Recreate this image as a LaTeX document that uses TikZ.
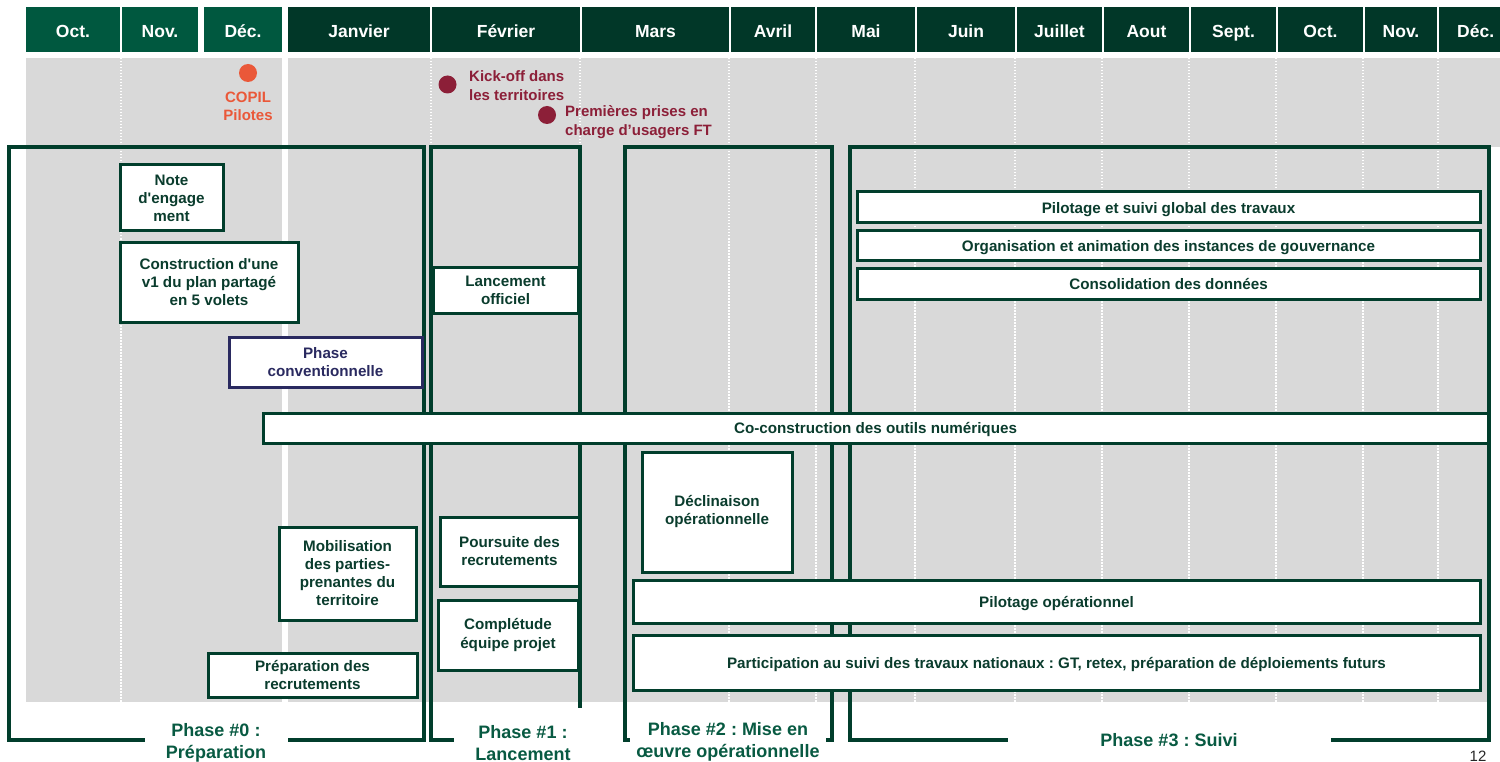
\documentclass[tikz,border=0pt]{standalone}
\usepackage{fontspec}
\setmainfont{Liberation Sans}[Ligatures=TeXOff]
\frenchspacing
\definecolor{hdrlight}{RGB}{0,88,63}
\definecolor{hdrdark}{RGB}{1,55,40}
\definecolor{bggray}{RGB}{217,217,217}
\definecolor{linegreen}{RGB}{1,62,44}
\definecolor{txtgreen}{RGB}{10,60,45}
\definecolor{phgreen}{RGB}{8,90,66}
\definecolor{navy}{RGB}{42,42,96}
\definecolor{copilor}{RGB}{234,88,57}
\definecolor{kickred}{RGB}{140,31,56}
\newcommand\mybox[7]{\node[#1, minimum width={((#5)-(#3))*1pt}, minimum height={((#6)-(#4))*1pt}] (#2) at ({((#3)+(#5))/2},{((#4)+(#6))/2}) {#7};}
\tikzset{
  hdr/.style={fill=#1, draw=none, inner sep=0pt, text=white, text height=15.6pt, text depth=0pt, font=\fontsize{17.5}{20}\selectfont\bfseries},
  box/.style={draw=linegreen, line width=3pt, fill=white, inner sep=0pt, align=center, text=txtgreen, font=\fontsize{15.2}{18}\selectfont\bfseries},
  onebox/.style={box, text depth=0pt},
  navybox/.style={box, draw=navy, text=navy},
  frame/.style={draw=linegreen, line width=3.5pt, inner sep=0pt},
  cover/.style={fill=white, draw=none, inner sep=0pt},
  phlbl/.style={inner sep=0pt, align=center, text=phgreen, font=\fontsize{18}{22}\selectfont\bfseries},
  dot/.style={circle, fill=#1, draw=none, minimum size=18pt, inner sep=0pt},
  mstext/.style={inner sep=0pt, text=#1, font=\fontsize{15}{19}\selectfont\bfseries},
  monthsep/.style={draw=white, line width=1.5pt, dash pattern=on 1.5pt off 1.5pt}
}
\begin{document}
\begin{tikzpicture}[x=1pt,y=-1pt]
\useasboundingbox (0,0) rectangle (1500,762);
% header
\mybox{hdr=hdrlight}{h1}{26}{7}{120}{52}{Oct.}
\mybox{hdr=hdrlight}{h2}{122}{7}{198}{52}{Nov.}
\mybox{hdr=hdrlight}{h3}{204}{7}{282}{52}{Déc.}
\mybox{hdr=hdrdark}{h4}{288}{7}{430}{52}{Janvier}
\mybox{hdr=hdrdark}{h5}{432}{7}{580}{52}{Février}
\mybox{hdr=hdrdark}{h6}{582}{7}{729}{52}{Mars}
\mybox{hdr=hdrdark}{h7}{731}{7}{815}{52}{Avril}
\mybox{hdr=hdrdark}{h8}{817}{7}{915}{52}{Mai}
\mybox{hdr=hdrdark}{h9}{917}{7}{1015}{52}{Juin}
\mybox{hdr=hdrdark}{h10}{1017}{7}{1102}{52}{Juillet}
\mybox{hdr=hdrdark}{h11}{1104}{7}{1189}{52}{Aout}
\mybox{hdr=hdrdark}{h12}{1191}{7}{1276}{52}{Sept.}
\mybox{hdr=hdrdark}{h13}{1278}{7}{1363}{52}{Oct.}
\mybox{hdr=hdrdark}{h14}{1365}{7}{1437}{52}{Nov.}
\node[hdr=hdrdark, minimum width=61pt, minimum height=45pt, anchor=north west] (h15) at (1439,7) {\hspace*{12pt}Déc.};
% gray background
\fill[bggray] (26,58) rectangle (282,702);
\fill[bggray] (288,58) rectangle (1500,147);
\fill[bggray] (288,147) rectangle (1490,702);
\foreach \x in {121,431,580,729,816,915,1015,1102,1189,1276,1363,1438}
  \draw[monthsep] (\x,58) -- (\x,702);
% milestones
\node[dot=copilor] (copil) at (248,73) {};
\node[mstext=copilor, align=center, font=\fontsize{15}{18}\selectfont\bfseries] (copilt) at (248,106) {COPIL\\Pilotes};
\node[dot=kickred] (kick) at (447.5,84.5) {};
\node[mstext=kickred, align=left, anchor=west] (kickt) at (469,86) {Kick-off dans\\les territoires};
\node[dot=kickred] (prem) at (547,115) {};
\node[mstext=kickred, align=left, anchor=west] (premt) at (565,122) {Premières prises en\\charge d’usagers FT};
% phase frames
\mybox{frame}{ph0}{9}{147}{424}{740}{}
\mybox{frame}{ph1}{431}{147}{580}{740}{}
\mybox{frame}{ph2}{625}{147}{832}{740}{}
\mybox{frame}{ph3}{850}{147}{1489}{740}{}
% task boxes
\mybox{box}{note}{120}{165}{223}{231}{Note\\d'engage\\ment}
\mybox{box}{constr}{120}{243}{298}{322}{Construction d'une\\v1 du plan partagé\\en 5 volets}
\mybox{navybox}{conv}{229}{337}{422}{387}{Phase\\conventionnelle}
\mybox{box}{lanc}{433}{268}{578}{313}{Lancement\\officiel}
\mybox{onebox}{pilg}{857}{192}{1480}{223}{Pilotage et suivi global des travaux}
\mybox{onebox}{orga}{857}{231}{1480}{261}{Organisation et animation des instances de gouvernance}
\mybox{onebox}{conso}{857}{269}{1480}{299}{Consolidation des données}
\mybox{onebox}{cocon}{263}{413}{1488}{443}{Co-construction des outils numériques}
\mybox{box}{decl}{642}{452}{792}{572}{Déclinaison\\opérationnelle}
\mybox{box}{mobil}{279}{527}{416}{620}{Mobilisation\\des parties-\\prenantes du\\territoire}
\mybox{box}{pours}{440}{517}{579}{586}{Poursuite des\\recrutements}
\mybox{box}{compl}{438}{600}{578}{670}{Complétude\\équipe projet}
\mybox{box}{prep}{208}{653}{417}{697}{Préparation des\\recrutements}
\mybox{onebox}{pilop}{633}{580}{1480}{623}{Pilotage opérationnel}
\mybox{onebox}{partic}{633}{635}{1480}{690}{Participation au suivi des travaux nationaux : GT, retex, préparation de déploiements futurs}
% phase labels
\mybox{cover}{c0}{145}{712}{288}{770}{}
\mybox{cover}{c1}{454}{708}{592}{770}{}
\mybox{cover}{c2}{630}{712}{826}{770}{}
\mybox{cover}{c3}{1008}{720}{1331}{770}{}
\node[phlbl] (l0) at (216,743) {Phase \#0 :\\Préparation};
\node[phlbl] (l1) at (523,743) {Phase \#1 :\\Lancement};
\node[phlbl] (l2) at (728,742) {Phase \#2 : Mise en\\œuvre opérationnelle};
\node[phlbl] (l3) at (1169,740) {Phase \#3 : Suivi};
\node[inner sep=0pt, anchor=base, text=black!85, font=\fontsize{15}{18}\selectfont] (pg) at (1478,761) {12};
\end{tikzpicture}
\end{document}
